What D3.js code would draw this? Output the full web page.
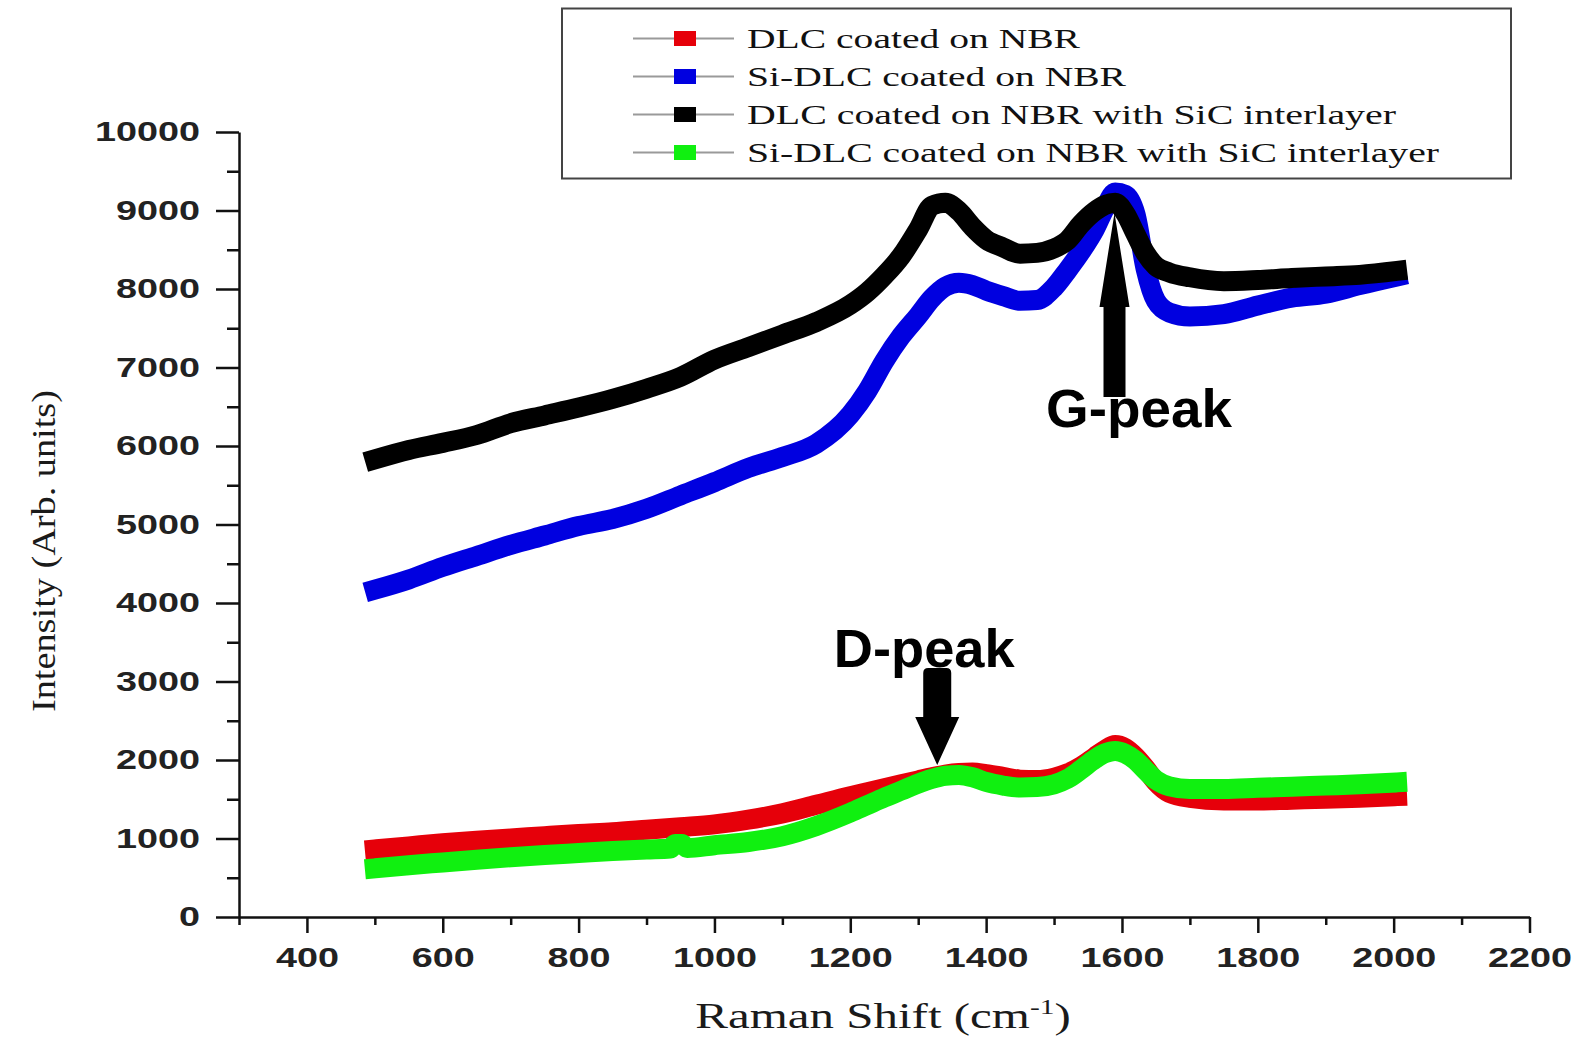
<!DOCTYPE html>
<html><head><meta charset="utf-8">
<script src="https://cdn.jsdelivr.net/npm/d3@7"></script>
<style>html,body{margin:0;padding:0;background:#fff;} svg{display:block}</style>
</head><body>
<svg id="chart" width="1581" height="1043"></svg>
<script>
// ---- data ----
const shiftX = [500,550,600,650,700,750,800,850,900,950,1000,1050,1100,1150,1200,1225,1250,1275,1300,1320,1340,1360,1380,1400,1425,1450,1475,1500,1520,1540,1560,1575,1590,1605,1620,1635,1650,1670,1700,1750,1800,1850,1900,1950,2005];
const dlcNBR = [860,900,940,972,1000,1030,1058,1080,1112,1145,1180,1240,1320,1430,1540,1590,1640,1690,1740,1780,1815,1835,1840,1820,1785,1750,1745,1775,1830,1920,2040,2130,2190,2150,2040,1890,1720,1580,1518,1485,1483,1495,1505,1520,1540];
const siDlcNBR = [4170,4300,4460,4600,4740,4860,4980,5070,5200,5370,5540,5720,5860,6030,6400,6700,7080,7400,7660,7880,8030,8080,8050,7980,7910,7850,7860,8020,8240,8480,8760,9030,9230,9200,8950,8250,7850,7700,7650,7680,7790,7890,7940,8050,8160];
const dlcSiC = [5830,5950,6040,6140,6290,6390,6490,6600,6730,6880,7100,7260,7420,7580,7800,7960,8170,8420,8760,9060,9100,8990,8790,8630,8530,8450,8460,8516,8620,8830,8990,9070,9100,8960,8700,8450,8290,8210,8150,8100,8115,8140,8160,8180,8230];
const greenX = [500,550,600,650,700,750,800,850,900,935,942,952,960,1000,1050,1100,1150,1200,1225,1250,1275,1300,1320,1340,1360,1380,1400,1425,1450,1475,1500,1520,1540,1560,1575,1590,1605,1620,1635,1650,1670,1700,1750,1800,1850,1900,1950,2005];
const siDlcSiC = [620,660,695,730,762,790,815,840,860,872,930,930,880,915,955,1030,1160,1330,1425,1520,1610,1700,1760,1800,1810,1780,1720,1675,1650,1655,1690,1760,1880,2010,2085,2115,2080,1995,1865,1745,1665,1630,1630,1645,1660,1675,1690,1715];

const seriesNames = ["DLC coated on NBR","Si-DLC coated on NBR","DLC coated on NBR with SiC interlayer","Si-DLC coated on NBR with SiC interlayer"];
const seriesColors = ["#e6000a","#0000e0","#000000","#10f010"];

const xTicks = [400,600,800,1000,1200,1400,1600,1800,2000,2200];
const xMinor = [300,500,700,900,1100,1300,1500,1700,1900,2100];
const yTicks = [0,1000,2000,3000,4000,5000,6000,7000,8000,9000,10000];
const yMinor = [500,1500,2500,3500,4500,5500,6500,7500,8500,9500];

const peakLabels = ["G-peak","D-peak"];
const peakShift = [1589,1328];
const peakLevel = [8968,1936];

// ---- drawing ----
const svg = d3.select("#chart");
const x = d3.scaleLinear().domain([300,2200]).range([239,1529.5]);
const y = d3.scaleLinear().domain([0,10000]).range([917,132]);

const SANS = "'Liberation Sans', Arial, sans-serif";
const SERIF = "'Liberation Serif', 'Times New Roman', serif";

const series = [
  {xs: shiftX, ys: dlcNBR, c: seriesColors[0]},
  {xs: shiftX, ys: siDlcNBR, c: seriesColors[1]},
  {xs: shiftX, ys: dlcSiC, c: seriesColors[2]},
  {xs: greenX, ys: siDlcSiC, c: seriesColors[3]}
];
const drawOrder = [1,2,0,3];
const line = d3.line().x(d=>x(d[0])).y(d=>y(d[1])).curve(d3.curveMonotoneX);
drawOrder.forEach(i=>{
  const s = series[i];
  svg.append("path")
    .attr("d", line(s.xs.map((v,k)=>[v,s.ys[k]])))
    .attr("fill","none").attr("stroke",s.c)
    .attr("stroke-width",20).attr("stroke-linecap","square").attr("stroke-linejoin","round");
});

// axes
function styleAxis(g){
  g.selectAll(".domain").attr("stroke","#111").attr("stroke-width",2.5);
  g.selectAll(".tick line").attr("stroke","#111").attr("stroke-width",2.5);
  g.selectAll(".tick text").attr("fill","#222").style("font-family",SANS).style("font-size","28px")
    .style("font-weight","bold")
    .attr("textLength", d=>String(d).length*21).attr("lengthAdjust","spacingAndGlyphs");
}
const fmt = d3.format("d");
const gy = svg.append("g").attr("transform",`translate(${x(300)},0)`)
  .call(d3.axisLeft(y).tickValues(yTicks).tickFormat(fmt).tickSize(23).tickSizeOuter(0).tickPadding(16));
styleAxis(gy);
const gym = svg.append("g").attr("transform",`translate(${x(300)},0)`)
  .call(d3.axisLeft(y).tickValues(yMinor).tickSize(12).tickFormat(""));
gym.select(".domain").remove(); styleAxis(gym);

const gx = svg.append("g").attr("transform",`translate(0,${y(0)})`)
  .call(d3.axisBottom(x).tickValues(xTicks).tickFormat(fmt).tickSize(16).tickSizeOuter(0).tickPadding(14));
styleAxis(gx);
const gxm = svg.append("g").attr("transform",`translate(0,${y(0)})`)
  .call(d3.axisBottom(x).tickValues(xMinor).tickSize(8).tickFormat(""));
gxm.select(".domain").remove(); styleAxis(gxm);

// axis titles
const xt = svg.append("text").attr("transform","translate(883,1028) scale(1.4,1)")
  .attr("text-anchor","middle").style("font-family",SERIF).style("font-size","35px").attr("fill","#1a1a1a");
xt.append("tspan").text("Raman Shift (cm");
xt.append("tspan").text("-1").style("font-size","21px").attr("dy",-14);
xt.append("tspan").text(")").attr("dy",14);

svg.append("text").attr("transform","translate(55,551) rotate(-90)")
  .attr("text-anchor","middle").style("font-family",SERIF).style("font-size","33px").attr("fill","#1a1a1a")
  .attr("textLength",322).attr("lengthAdjust","spacingAndGlyphs")
  .text("Intensity (Arb. units)");

// legend
const lg = svg.append("g");
lg.append("rect").attr("x",562).attr("y",8.5).attr("width",949).attr("height",170)
  .attr("fill","#fff").attr("stroke","#444").attr("stroke-width",2);
const legW = [333,379,649,692];
seriesNames.forEach((n,i)=>{
  const cy = 38.5 + i*38;
  lg.append("line").attr("x1",633).attr("x2",734).attr("y1",cy).attr("y2",cy).attr("stroke","#9a9a9a").attr("stroke-width",2);
  lg.append("rect").attr("x",674).attr("y",cy-7.5).attr("width",22).attr("height",15).attr("fill",seriesColors[i]);
  lg.append("text").attr("x",747).attr("y",cy+9).style("font-family",SERIF).style("font-size","28px").attr("fill","#111")
    .attr("textLength",legW[i]).attr("lengthAdjust","spacingAndGlyphs").text(n);
});

// peak annotations
{
  const tx = x(peakShift[0]), ty = y(peakLevel[0]);
  svg.append("path").attr("fill","#000")
    .attr("d",`M${tx},${ty} L${tx+15},${ty+94} L${tx+11},${ty+94} L${tx+11},${ty+184} L${tx-11},${ty+184} L${tx-11},${ty+94} L${tx-15},${ty+94} Z`);
  svg.append("text").attr("x",tx+24.5).attr("y",ty+214).attr("text-anchor","middle")
    .style("font-family",SANS).style("font-weight","bold").style("font-size","54px").attr("fill","#000")
    .attr("textLength",186).attr("lengthAdjust","spacingAndGlyphs").text(peakLabels[0]);
}
{
  const tx = x(peakShift[1]), ty = y(peakLevel[1]);
  svg.append("text").attr("x",tx-13).attr("y",ty-98).attr("text-anchor","middle")
    .style("font-family",SANS).style("font-weight","bold").style("font-size","54px").attr("fill","#000")
    .attr("textLength",181).attr("lengthAdjust","spacingAndGlyphs").text(peakLabels[1]);
  svg.append("path").attr("fill","#000")
    .attr("d",`M${tx},${ty} L${tx+22},${ty-48} L${tx+14},${ty-48} L${tx+14},${ty-92} Q${tx+14},${ty-97} ${tx+9},${ty-97} L${tx-9},${ty-97} Q${tx-14},${ty-97} ${tx-14},${ty-92} L${tx-14},${ty-48} L${tx-22},${ty-48} Z`);
}
</script>
</body></html>
